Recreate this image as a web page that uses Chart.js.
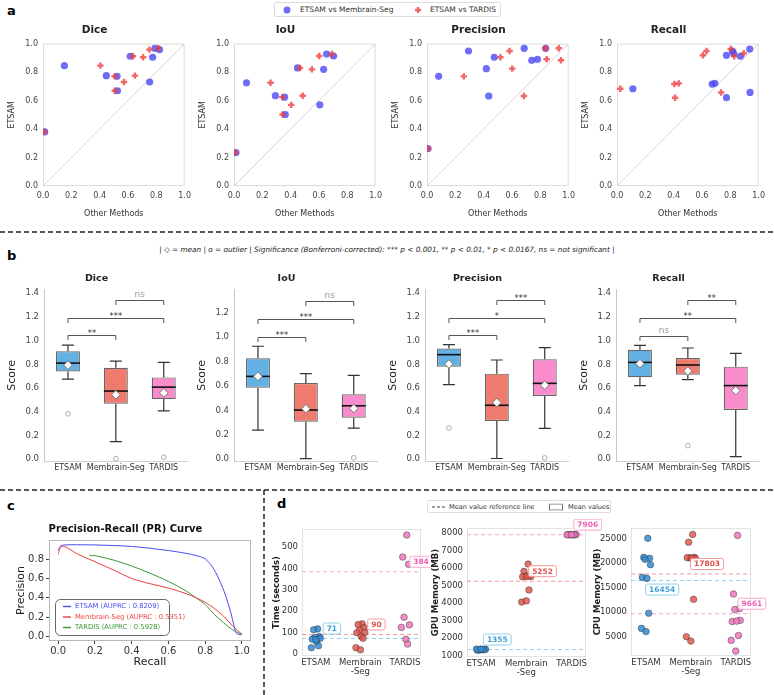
<!DOCTYPE html>
<html>
<head>
<meta charset="utf-8">
<title>ETSAM comparison</title>
<script src="https://cdn.jsdelivr.net/npm/chart.js@4.4.1/dist/chart.umd.min.js"></script>
<style>
  body { margin: 0; background: #fff; }
  #fig { position: relative; width: 774px; height: 695px; overflow: hidden; font-family: "DejaVu Sans", sans-serif; color: #222; }
  #fig canvas { position: absolute; }
  .panel { position: absolute; font-weight: bold; font-size: 13px; color: #000; }
  .legend { position: absolute; border: 1px solid #ddd; border-radius: 2px; background: #fff; font-size: 7.5px; color: #333; box-sizing: border-box; }
  .legend span { position: absolute; top: 50%; transform: translateY(-50%); white-space: nowrap; line-height: 1; }
  .legend svg { display: block; }
  #note { position: absolute; left: 0; width: 774px; top: 245px; text-align: center; font-style: italic; font-size: 7.3px; color: #222; white-space: pre; }
</style>
</head>
<body>
<div id="fig">
  <svg width="774" height="695" style="position:absolute;left:0;top:0">
    <g stroke="#222" stroke-width="1.5" stroke-dasharray="5 3">
      <line x1="0" y1="232" x2="774" y2="232"/>
      <line x1="0" y1="490" x2="774" y2="490"/>
      <line x1="264" y1="490" x2="264" y2="695"/>
    </g>
  </svg>
  <div class="panel" style="left:7px;top:3px">a</div>
  <div class="panel" style="left:7px;top:248px">b</div>
  <div class="panel" style="left:7px;top:498px">c</div>
  <div class="panel" style="left:277px;top:496px">d</div>

  <div class="legend" style="left:274px;top:2px;width:227px;height:15px">
    <span style="left:8px"><svg width="8" height="8"><circle cx="4" cy="4" r="3.5" fill="rgba(72,72,245,0.8)"/></svg></span>
    <span style="left:25px">ETSAM vs Membrain-Seg</span>
    <span style="left:139px"><svg width="8" height="8"><path d="M4 1V7M1 4H7" stroke="rgba(238,64,64,0.8)" stroke-width="2.4"/></svg></span>
    <span style="left:155px">ETSAM vs TARDIS</span>
  </div>

  <div id="note">| ◇ = mean | o = outlier | Significance (Bonferroni-corrected): *** p &lt; 0.001, ** p &lt; 0.01, * p &lt; 0.0167, ns = not significant |</div>

  <div class="legend" style="left:427px;top:500px;width:184px;height:13px;font-size:6.6px">
    <span style="left:4px"><svg width="13" height="4"><line x1="0" y1="2" x2="13" y2="2" stroke="#444" stroke-width="1" stroke-dasharray="3 2"/></svg></span>
    <span style="left:21px">Mean value reference line</span>
    <span style="left:121px"><svg width="14" height="7"><rect x="0.5" y="0.5" width="13" height="6" fill="#fff" stroke="#777" stroke-width="1"/></svg></span>
    <span style="left:140px">Mean values</span>
  </div>
</div>

<script>
// ========== DATA ==========
const methods = ["ETSAM", "Membrain-Seg", "TARDIS"];
const methodTicks = ["ETSAM", ["Membrain", "-Seg"], "TARDIS"];

// panel a: one point per tomogram, ETSAM score on y, other method on x
const diceEtsam    = [0.845, 0.775, 0.770, 0.669, 0.911, 0.730, 0.904, 0.967, 0.958, 0.380];
const diceMembrain = [0.151, 0.447, 0.523, 0.526, 0.616, 0.753, 0.774, 0.790, 0.823, 0.012];
const diceTardis   = [0.405, 0.649, 0.505, 0.507, 0.635, 0.572, 0.707, 0.814, 0.751, 0.010];

const iouEtsam    = [0.725, 0.634, 0.624, 0.502, 0.829, 0.570, 0.819, 0.927, 0.913, 0.235];
const iouMembrain = [0.088, 0.292, 0.357, 0.362, 0.448, 0.606, 0.633, 0.654, 0.703, 0.014];
const iouTardis   = [0.258, 0.485, 0.341, 0.343, 0.466, 0.404, 0.550, 0.691, 0.601, 0.010];

const precEtsam    = [0.770, 0.948, 0.824, 0.632, 0.904, 0.967, 0.883, 0.890, 0.967, 0.263];
const precMembrain = [0.082, 0.293, 0.419, 0.436, 0.475, 0.686, 0.740, 0.780, 0.838, 0.007];
const precTardis   = [0.260, 0.583, 0.602, 0.684, 0.518, 0.834, 0.946, 0.845, 0.930, 0.007];

const recEtsam    = [0.683, 0.716, 0.721, 0.918, 0.620, 0.948, 0.932, 0.911, 0.962, 0.657];
const recMembrain = [0.112, 0.672, 0.691, 0.773, 0.773, 0.815, 0.824, 0.871, 0.937, 0.939];
const recTardis   = [0.023, 0.405, 0.436, 0.607, 0.410, 0.632, 0.895, 0.827, 0.803, 0.735];

// panel b: box stats per method -> [low whisker, q1, median, q3, high whisker, mean]
const diceBox = [[0.676, 0.741, 0.811, 0.910, 0.963, 0.794], [0.149, 0.468, 0.575, 0.772, 0.828, 0.544], [0.408, 0.507, 0.608, 0.690, 0.817, 0.560]];
const iouBox  = [[0.238, 0.586, 0.679, 0.827, 0.926, 0.679], [0.005, 0.307, 0.403, 0.625, 0.701, 0.414], [0.255, 0.340, 0.438, 0.532, 0.688, 0.416]];
const precBox = [[0.629, 0.781, 0.882, 0.933, 0.966, 0.803], [0.006, 0.323, 0.455, 0.722, 0.837, 0.478], [0.261, 0.534, 0.640, 0.843, 0.941, 0.624]];
const recBox  = [[0.621, 0.691, 0.817, 0.924, 0.960, 0.806], [0.671, 0.713, 0.795, 0.854, 0.938, 0.744], [0.022, 0.416, 0.621, 0.781, 0.893, 0.579]];
const diceOutliers = [[0.383], [0.005], [0.017]];
const iouOutliers  = [[], [], [0.011]];
const precOutliers = [[0.264], [], [0.011]];
const recOutliers  = [[], [0.115], []];

// significance brackets: ETSAM-Membrain, ETSAM-TARDIS, Membrain-TARDIS
const sigPairs = [[0, 1], [0, 2], [1, 2]];
const diceSig = ["**", "***", "ns"],   diceSigY = [1.045, 1.194, 1.344];
const iouSig  = ["***", "***", "ns"],  iouSigY  = [1.005, 1.151, 1.300];
const precSig = ["***", "*", "***"],   precSigY = [1.045, 1.190, 1.343];
const recSig  = ["ns", "**", "**"],    recSigY  = [1.040, 1.190, 1.343];

// panel c: precision-recall curves
const prNames = ["ETSAM", "Membrain-Seg", "TARDIS"];
const prAuc = [0.8209, 0.5351, 0.5928];
const etsamRecall    = [0.0, 0.01, 0.03, 0.1, 0.2, 0.3, 0.4, 0.5, 0.6, 0.7, 0.75, 0.8, 0.82, 0.84, 0.877, 0.913, 0.94, 0.958, 0.967, 1.0];
const etsamPrecision = [0.89, 0.93, 0.945, 0.948, 0.946, 0.94, 0.93, 0.912, 0.888, 0.858, 0.837, 0.803, 0.766, 0.72, 0.586, 0.415, 0.245, 0.109, 0.04, 0.017];
const membRecall     = [0.0, 0.01, 0.02, 0.04, 0.1, 0.2, 0.3, 0.4, 0.5, 0.6, 0.7, 0.8, 0.85, 0.9, 0.95, 1.0];
const membPrecision  = [0.85, 0.91, 0.93, 0.925, 0.858, 0.773, 0.688, 0.60, 0.545, 0.50, 0.44, 0.354, 0.29, 0.211, 0.109, 0.024];
const tardRecall     = [0.17, 0.2, 0.3, 0.4, 0.5, 0.6, 0.7, 0.75, 0.8, 0.85, 0.9, 0.95, 1.0];
const tardPrecision  = [0.84, 0.835, 0.79, 0.728, 0.654, 0.569, 0.466, 0.40, 0.33, 0.228, 0.143, 0.068, 0.024];

// panel d: runtime and memory per tomogram
const timeEtsam    = [116, 112, 80, 76, 72, 68, 56, 37, 28, 65];
const timeMembrain = [140, 136, 122, 108, 100, 98, 80, 72, 28, 18];
const timeTardis   = [556, 453, 419, 171, 135, 123, 67, 45];
const timeMeans    = [71, 90, 384];
const timeTicks    = [0, 100, 200, 300, 400, 500];

const gpuEtsam    = [1350, 1330, 1365, 1340, 1375, 1320, 1360, 1345, 1380, 1385];
const gpuMembrain = [6230, 5810, 5560, 5540, 5520, 5500, 5520, 4750, 4060, 4130];
const gpuTardis   = [7900, 7910, 7905, 7895, 7915, 7908, 7902, 7912, 7898, 7905];
const gpuMeans    = [1355, 5252, 7906];
const gpuTicks    = [1000, 2000, 3000, 4000, 5000, 6000, 7000, 8000];

const cpuEtsam    = [25100, 21200, 21000, 20800, 19700, 17100, 16900, 9750, 6650, 6000];
const cpuMembrain = [25900, 24300, 21200, 21100, 21000, 21150, 21050, 12600, 4950, 4050];
const cpuTardis   = [25700, 13700, 10700, 10500, 8300, 8050, 8150, 5200, 4200, 2000];
const cpuMeans    = [16454, 17803, 9661];
const cpuTicks    = [5000, 10000, 15000, 20000, 25000];

// ========== STYLE ==========
const boxColors = ["#62b0e4", "#ee7b6d", "#fb8ccb"];
const dotColors = ["rgba(52,140,210,0.85)", "rgba(224,88,78,0.85)", "rgba(240,120,190,0.85)"];
const meanLineColors = ["#8fd3ee", "#f29a9a", "#f6a8cc"];
const meanTextColors = ["#3d9fdc", "#e0514a", "#ee5cb2"];
const jitter = [0.04, -0.05, 0.08, -0.02, 0.1, -0.08, 0.02, 0.06, -0.1, 0.0];

Chart.defaults.font.family = "'DejaVu Sans', sans-serif";
Chart.defaults.color = "#333";
Chart.defaults.animation = false;
Chart.defaults.events = [];
Chart.defaults.plugins.legend.display = false;
Chart.defaults.plugins.tooltip.enabled = false;

const fig = document.getElementById("fig");
function addCanvas(left, top, width, height) {
  const cv = document.createElement("canvas");
  cv.width = width;
  cv.height = height;
  cv.style.left = left + "px";
  cv.style.top = top + "px";
  cv.style.width = width + "px";
  cv.style.height = height + "px";
  fig.appendChild(cv);
  return cv;
}

// light box around the plot area
Chart.register({
  id: "frame",
  beforeDatasetsDraw(chart, args, opts) {
    if (!opts.color) return;
    const a = chart.chartArea, ctx = chart.ctx;
    ctx.save();
    ctx.strokeStyle = opts.color;
    ctx.lineWidth = 1;
    ctx.strokeRect(a.left + 0.5, a.top + 0.5, a.width - 1, a.height - 1);
    ctx.restore();
  },
});

const noGrid = { display: false, drawTicks: false };

// ========== PANEL A ==========
function scatterPlot(left, title, etsam, other1, other2) {
  const yw = 40, w = 143;
  const cv = addCanvas(left - yw, 20, yw + w + 10, 199);
  new Chart(cv, {
    type: "scatter",
    data: {
      datasets: [
        { type: "line", data: [{ x: 0, y: 0 }, { x: 1, y: 1 }], borderColor: "#c8c8c8", borderWidth: 0.8, pointRadius: 0, order: 3 },
        { data: etsam.map((v, i) => ({ x: other1[i], y: v })), pointStyle: "circle", pointRadius: 3.6, backgroundColor: "rgba(72,72,245,0.8)", borderWidth: 0, order: 2 },
        { data: etsam.map((v, i) => ({ x: other2[i], y: v })), pointStyle: "cross", pointRadius: 3.2, borderColor: "rgba(238,64,64,0.8)", borderWidth: 2.4, order: 1 },
      ],
    },
    options: {
      responsive: false,
      layout: { padding: { right: 10 } },
      plugins: {
        frame: { color: "#dcdcdc" },
        title: { display: true, text: title, color: "#222", font: { size: 10.5, weight: "bold", lineHeight: 1.2 }, padding: { top: 4, bottom: 7 } },
      },
      scales: {
        x: {
          type: "linear", min: 0, max: 1,
          grid: noGrid, border: { display: false },
          ticks: { stepSize: 0.2, padding: 5, font: { size: 8 }, color: "#444", callback: (v) => v.toFixed(1) },
          title: { display: true, text: "Other Methods", font: { size: 8 }, color: "#333", padding: 0 },
          afterFit: (s) => { s.height = 33; },
        },
        y: {
          min: 0, max: 1,
          grid: noGrid, border: { display: false },
          ticks: { stepSize: 0.2, padding: 5, font: { size: 8 }, color: "#444", callback: (v) => v.toFixed(1) },
          title: { display: true, text: "ETSAM", font: { size: 8 }, color: "#333", padding: { top: 4, bottom: 0 } },
          afterFit: (s) => { s.width = yw; },
        },
      },
    },
  });
}

scatterPlot(43, "Dice", diceEtsam, diceMembrain, diceTardis);
scatterPlot(234, "IoU", iouEtsam, iouMembrain, iouTardis);
scatterPlot(427, "Precision", precEtsam, precMembrain, precTardis);
scatterPlot(617, "Recall", recEtsam, recMembrain, recTardis);

// ========== PANEL B ==========
const boxExtras = {
  id: "boxExtras",
  beforeDatasetsDraw(chart, args, o) {
    if (!o.box) return;
    const ctx = chart.ctx, y = chart.scales.y, bars = chart.getDatasetMeta(0).data;
    ctx.save();
    ctx.strokeStyle = "#333";
    ctx.lineWidth = 1.2;
    o.box.forEach((r, i) => {
      const x = bars[i].x, cap = bars[i].width / 4;
      const lo = y.getPixelForValue(r[0]), q1 = y.getPixelForValue(r[1]);
      const q3 = y.getPixelForValue(r[3]), hi = y.getPixelForValue(r[4]);
      ctx.beginPath();
      ctx.moveTo(x, q1); ctx.lineTo(x, lo);
      ctx.moveTo(x - cap, lo); ctx.lineTo(x + cap, lo);
      ctx.moveTo(x, q3); ctx.lineTo(x, hi);
      ctx.moveTo(x - cap, hi); ctx.lineTo(x + cap, hi);
      ctx.stroke();
    });
    ctx.restore();
  },
  afterDatasetDraw(chart, args, o) {
    if (!o.box || args.index !== 0) return;
    const ctx = chart.ctx, y = chart.scales.y, bars = chart.getDatasetMeta(0).data;
    ctx.save();
    ctx.strokeStyle = "#111";
    ctx.lineWidth = 1.6;
    o.box.forEach((r, i) => {
      const b = bars[i], py = y.getPixelForValue(r[2]);
      ctx.beginPath();
      ctx.moveTo(b.x - b.width / 2, py);
      ctx.lineTo(b.x + b.width / 2, py);
      ctx.stroke();
    });
    ctx.restore();
  },
  afterDatasetsDraw(chart, args, o) {
    if (!o.sig) return;
    const ctx = chart.ctx, y = chart.scales.y, bars = chart.getDatasetMeta(0).data;
    ctx.save();
    ctx.textAlign = "center";
    ctx.textBaseline = "alphabetic";
    o.sig.forEach((t, k) => {
      const [a, b] = sigPairs[k];
      const xa = bars[a].x, xb = bars[b].x, py = Math.round(y.getPixelForValue(o.sigY[k])) + 0.5;
      ctx.strokeStyle = "#555";
      ctx.lineWidth = 1;
      ctx.beginPath();
      ctx.moveTo(xa, py + 4.5); ctx.lineTo(xa, py); ctx.lineTo(xb, py); ctx.lineTo(xb, py + 4.5);
      ctx.stroke();
      const ns = t === "ns";
      ctx.fillStyle = ns ? "#999" : "#333";
      ctx.font = (ns ? "9px" : "8.5px") + " 'DejaVu Sans', sans-serif";
      ctx.fillText(t, (xa + xb) / 2, ns ? py - 3.5 : py + 0.5);
    });
    ctx.restore();
  },
};

function boxPlot(left, title, box, outliers, sig, sigY, yMax) {
  const yw = 44, w = 149;
  const cv = addCanvas(left - yw, 272, yw + w, 205);
  new Chart(cv, {
    type: "bar",
    data: {
      labels: methods,
      datasets: [
        { data: box.map((r) => [r[1], r[3]]), backgroundColor: boxColors, borderColor: "#666", borderWidth: 1.2, borderSkipped: false, barPercentage: 0.5, categoryPercentage: 1, order: 3 },
        { type: "line", data: box.map((r) => r[5]), showLine: false, pointStyle: "rectRot", pointRadius: 4.3, pointBackgroundColor: "#fff", pointBorderColor: "#777", pointBorderWidth: 1, order: 1 },
        { type: "line", data: outliers.flatMap((arr, i) => arr.map((v) => ({ x: methods[i], y: v }))), showLine: false, pointStyle: "circle", pointRadius: 2.4, pointBackgroundColor: "#fff", pointBorderColor: "#999", pointBorderWidth: 0.8, order: 2 },
      ],
    },
    options: {
      responsive: false,
      layout: { padding: 0 },
      plugins: {
        boxExtras: { box, sig, sigY },
        title: { display: true, text: title, color: "#222", font: { size: 9.5, weight: "bold", lineHeight: 1.2 }, padding: { top: 0.6, bottom: 5.7 } },
      },
      scales: {
        x: {
          grid: noGrid, border: { color: "#d0d0d0" },
          ticks: { padding: 2, font: { size: 8 }, color: "#333", autoSkip: false, maxRotation: 0 },
          afterFit: (s) => { s.height = 16; },
        },
        y: {
          min: -0.015, max: yMax,
          grid: noGrid, border: { color: "#c8c8c8" },
          ticks: { stepSize: 0.2, includeBounds: false, padding: 5, font: { size: 8.5 }, color: "#444", callback: (v) => v.toFixed(1) },
          title: { display: true, text: "Score", font: { size: 11 }, color: "#222", padding: { top: 5.5, bottom: 0 } },
          afterFit: (s) => { s.width = yw; },
        },
      },
    },
    plugins: [boxExtras],
  });
}

boxPlot(44, "Dice", diceBox, diceOutliers, diceSig, diceSigY, 1.43);
boxPlot(234, "IoU", iouBox, iouOutliers, iouSig, iouSigY, 1.39);
boxPlot(425, "Precision", precBox, precOutliers, precSig, precSigY, 1.43);
boxPlot(616, "Recall", recBox, recOutliers, recSig, recSigY, 1.43);

// ========== PANEL C ==========
const prLegend = {
  id: "prLegend",
  afterDraw(chart) {
    const ctx = chart.ctx, a = chart.chartArea;
    const x = a.left + 6, y = a.top + 59, w = 114, h = 36;
    ctx.save();
    ctx.beginPath();
    ctx.roundRect(x + 0.5, y + 0.5, w, h, 5);
    ctx.fillStyle = "rgba(255,255,255,0.85)";
    ctx.fill();
    ctx.strokeStyle = "#666";
    ctx.lineWidth = 1;
    ctx.stroke();
    ctx.font = "6.8px 'DejaVu Sans', sans-serif";
    ctx.textBaseline = "middle";
    chart.data.datasets.forEach((ds, i) => {
      const ly = y + 7.5 + i * 10.5;
      ctx.strokeStyle = ds.borderColor;
      ctx.lineWidth = 1.4;
      ctx.beginPath();
      ctx.moveTo(x + 8, ly); ctx.lineTo(x + 16, ly);
      ctx.stroke();
      ctx.fillStyle = ds.borderColor;
      ctx.fillText(ds.label, x + 20, ly);
    });
    ctx.restore();
  },
};

const prColors = ["#4b4bf2", "#ee3f3f", "#3a963a"];
const prX = [etsamRecall, membRecall, tardRecall];
const prY = [etsamPrecision, membPrecision, tardPrecision];

new Chart(addCanvas(0, 523, 253, 146), {
  type: "line",
  data: {
    datasets: prNames.map((n, k) => ({
      label: `${n} (AUPRC : ${prAuc[k].toFixed(4)})`,
      data: prX[k].map((r, i) => ({ x: r, y: prY[k][i] })),
      borderColor: prColors[k],
      borderWidth: 1,
      pointRadius: 0,
      cubicInterpolationMode: "monotone",
    })),
  },
  options: {
    responsive: false,
    layout: { padding: { right: 2 } },
    plugins: {
      frame: { color: "#b8b8b8" },
      title: { display: true, text: "Precision-Recall (PR) Curve", color: "#111", font: { size: 10, weight: "bold", lineHeight: 1.2 }, padding: { top: 0, bottom: 5 } },
    },
    scales: {
      x: {
        type: "linear", min: -0.05, max: 1.05,
        grid: { display: true, drawOnChartArea: false, drawTicks: true, tickLength: 3, color: "#444" },
        border: { display: false },
        ticks: { stepSize: 0.2, includeBounds: false, padding: 1, font: { size: 10 }, color: "#333", callback: (v) => v.toFixed(1) },
        title: { display: true, text: "Recall", font: { size: 11 }, color: "#222", padding: 0 },
        afterFit: (s) => { s.height = 28; },
      },
      y: {
        min: -0.047, max: 0.997,
        grid: { display: true, drawOnChartArea: false, drawTicks: true, tickLength: 3, color: "#444" },
        border: { display: false },
        ticks: { stepSize: 0.2, includeBounds: false, padding: 2, font: { size: 10 }, color: "#333", callback: (v) => v.toFixed(1) },
        title: { display: true, text: "Precision", font: { size: 11 }, color: "#222", padding: { top: 15, bottom: 0 } },
        afterFit: (s) => { s.width = 49; },
      },
    },
  },
  plugins: [prLegend],
});

// ========== PANEL D ==========
const meanLabels = {
  id: "meanLabels",
  afterDatasetsDraw(chart, args, o) {
    if (!o.means) return;
    const ctx = chart.ctx, xs = chart.scales.x, ys = chart.scales.y;
    ctx.save();
    ctx.font = "bold 7.5px 'DejaVu Sans', sans-serif";
    ctx.textAlign = "center";
    ctx.textBaseline = "middle";
    o.means.forEach((m, i) => {
      const txt = String(m);
      const cx = xs.getPixelForValue(i + 0.36);
      const cy = ys.getPixelForValue(m) + (o.below === i ? 9 : -10);
      const w = ctx.measureText(txt).width + 7, h = 11;
      ctx.beginPath();
      ctx.roundRect(cx - w / 2, cy - h / 2, w, h, 2);
      ctx.fillStyle = "rgba(255,255,255,0.9)";
      ctx.fill();
      ctx.strokeStyle = meanLineColors[i];
      ctx.lineWidth = 1;
      ctx.stroke();
      ctx.fillStyle = meanTextColors[i];
      ctx.fillText(txt, cx, cy + 0.5);
    });
    ctx.restore();
  },
};

function stripPlot(left, top, yw, w, h, padRight, yTitle, series, means, tickVals, yMin, yMax, xMin, xMax, below) {
  const cv = addCanvas(left, top, yw + w + padRight, 6 + h + 30);
  const dots = series.map((vals, i) => ({
    data: vals.map((v, k) => ({ x: i + jitter[k % jitter.length], y: v })),
    pointStyle: "circle", pointRadius: 3.3,
    backgroundColor: dotColors[i], borderColor: "rgba(50,50,50,0.75)", borderWidth: 0.6,
    order: 1,
  }));
  const lines = means.map((m, i) => ({
    type: "line", data: [{ x: xMin, y: m }, { x: xMax, y: m }],
    borderColor: meanLineColors[i], borderWidth: 1, borderDash: [4, 3], pointRadius: 0,
    order: 5,
  }));
  new Chart(cv, {
    type: "scatter",
    data: { datasets: lines.concat(dots) },
    options: {
      responsive: false,
      layout: { padding: { top: 6, right: padRight } },
      plugins: {
        frame: { color: "#e2e2e2" },
        meanLabels: { means, below },
      },
      scales: {
        x: {
          type: "linear", min: xMin, max: xMax,
          grid: noGrid, border: { display: false },
          afterBuildTicks: (s) => { s.ticks = methodTicks.map((t, i) => ({ value: i })); },
          ticks: { padding: 3, font: { size: 8.5, lineHeight: 1.0 }, color: "#333", autoSkip: false, maxRotation: 0, callback: (v) => methodTicks[v] },
          afterFit: (s) => { s.height = 30; },
        },
        y: {
          min: yMin, max: yMax,
          grid: noGrid, border: { display: false },
          afterBuildTicks: (s) => { s.ticks = tickVals.map((v) => ({ value: v })); },
          ticks: { padding: 4, font: { size: 8.5 }, color: "#333", autoSkip: false, callback: (v) => String(v) },
          title: { display: true, text: yTitle, font: { size: 8.5, weight: "bold" }, color: "#222", padding: { top: 5.5, bottom: 0 } },
          afterFit: (s) => { s.width = yw; },
        },
      },
    },
    plugins: [meanLabels],
  });
}

stripPlot(266, 520, 36, 119, 130, 14, "Time (seconds)", [timeEtsam, timeMembrain, timeTardis], timeMeans, timeTicks, -11, 584, -0.31, 2.36, -1);
stripPlot(425, 519, 42, 119, 132, 16, "GPU Memory (MB)", [gpuEtsam, gpuMembrain, gpuTardis], gpuMeans, gpuTicks, 930, 8280, -0.31, 2.32, -1);
stripPlot(587, 519, 44, 120, 131, 20, "CPU Memory (MB)", [cpuEtsam, cpuMembrain, cpuTardis], cpuMeans, cpuTicks, 1000, 27200, -0.334, 2.34, 0);
</script>
</body>
</html>
